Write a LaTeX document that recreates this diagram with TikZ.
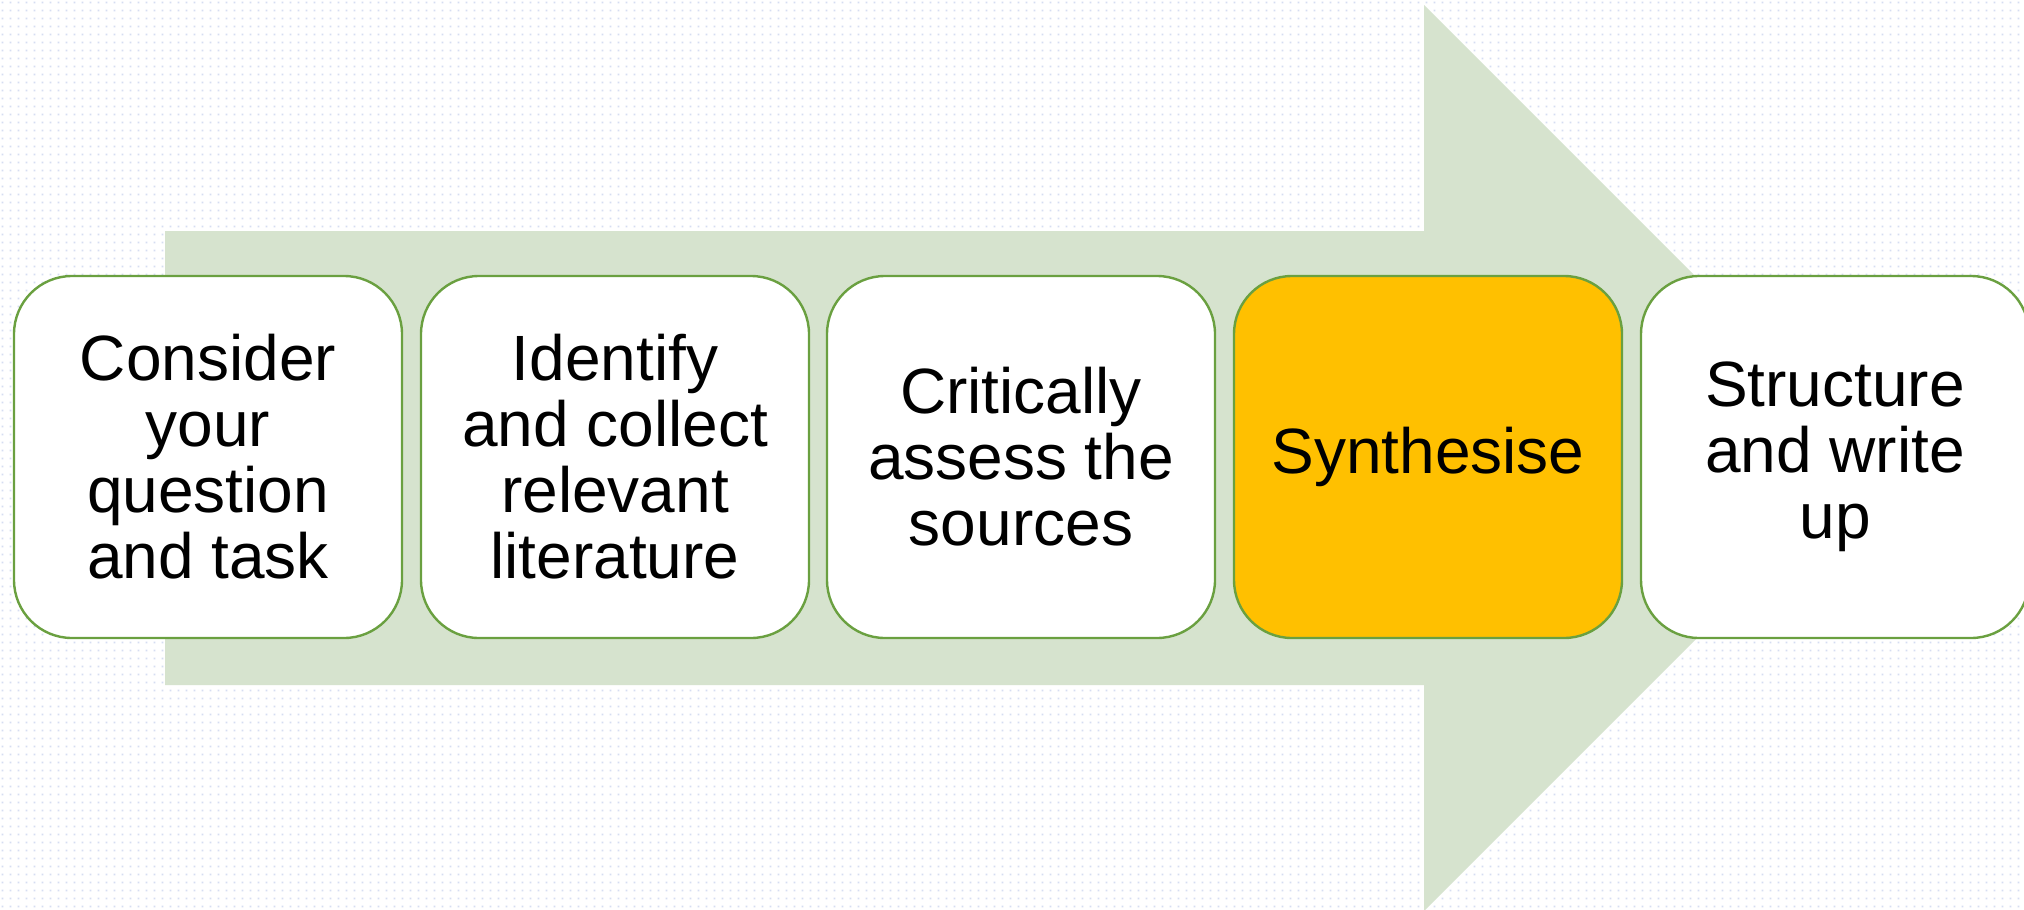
\documentclass[tikz,border=0pt]{standalone}
\usepackage{fontspec}
\setmainfont{Liberation Sans}
\usetikzlibrary{patterns}
\definecolor{dotgrey}{RGB}{214,221,242}
\definecolor{arrowgreen}{RGB}{214,227,206}
\definecolor{edgegreen}{RGB}{106,160,64}
\definecolor{gold}{RGB}{255,192,0}
% light dotted paper texture
\pgfdeclarepatternformonly{bgdots}{\pgfpointorigin}{\pgfpoint{4pt}{4pt}}{\pgfpoint{4pt}{4pt}}{%
  \pgfpathrectangle{\pgfpoint{1.5pt}{1.5pt}}{\pgfpoint{1pt}{1pt}}\pgfusepath{fill}}
\begin{document}
\begin{tikzpicture}[x=0.5pt,y=-0.5pt,
  stepbox/.style={draw=edgegreen, line width=1.2pt, fill=white,
    rounded corners=29pt, minimum width=194pt, minimum height=181pt,
    inner sep=0pt, align=center, font=\fontsize{32}{33}\selectfont},
  hilite/.style={fill=gold}]
\useasboundingbox (0,0) rectangle (2024,910);
\clip (0,0) rectangle (2024,910);
\fill[white] (0,0) rectangle (2024,910);
\fill[pattern=bgdots, pattern color=dotgrey] (0,0) rectangle (2024,910);
% big process arrow behind the steps
\fill[arrowgreen] (165,231) -- (1424,231) -- (1424,5) -- (1877,458)
  -- (1424,911) -- (1424,685) -- (165,685) -- cycle;
% the five steps
\node[stepbox] (s1) at (208,457) {Consider\\your\\question\\and task};
\node[stepbox] (s2) at (615,457) {Identify\\and collect\\relevant\\literature};
\node[stepbox] (s3) at (1021,457) {Critically\\assess the\\sources};
\node[stepbox, hilite] (s4) at (1428,457) {Synthesise};
\node[stepbox] (s5) at (1835,457) {Structure\\and write\\up};
\end{tikzpicture}
\end{document}
